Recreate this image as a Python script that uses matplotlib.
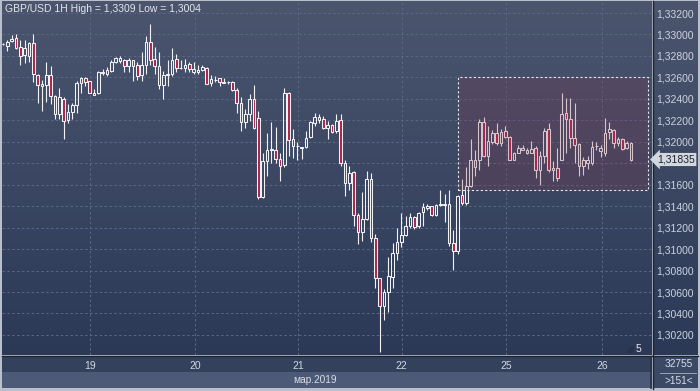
import matplotlib
matplotlib.use('Agg')
import matplotlib.pyplot as plt
import numpy as np
from matplotlib.patches import Rectangle

plt.rcParams['font.family'] = ['Liberation Sans', 'DejaVu Sans']

# ---------------- data (GBP/USD, 1H candles) ----------------
opens = [1.32910, 1.32894, 1.32938, 1.32964, 1.32882, 1.32807, 1.32801, 1.32920, 1.32627, 1.32518,
         1.32533, 1.32627, 1.32427, 1.32256, 1.32403, 1.32202, 1.32277, 1.32346, 1.32546, 1.32599,
         1.32564, 1.32459, 1.32452, 1.32639, 1.32636, 1.32661, 1.32739, 1.32751, 1.32758, 1.32702,
         1.32758, 1.32714, 1.32620, 1.32720, 1.32926, 1.32770, 1.32702, 1.32533, 1.32620, 1.32630,
         1.32770, 1.32692, 1.32689, 1.32723, 1.32646, 1.32646, 1.32670, 1.32692, 1.32546, 1.32576,
         1.32590, 1.32558, 1.32558, 1.32558, 1.32483, 1.32365, 1.32184, 1.32256, 1.32403, 1.32225,
         1.31486, 1.31819, 1.31928, 1.31928, 1.31842, 1.31785, 1.32459, 1.32022, 1.31959, 1.31944,
         1.31954, 1.32047, 1.32178, 1.32234, 1.32209, 1.32131, 1.32153, 1.32100, 1.32202, 1.31798,
         1.31617, 1.31720, 1.31321, 1.31155, 1.31281, 1.31655, 1.31103, 1.30729, 1.30470, 1.30604,
         1.30744, 1.30963, 1.31062, 1.31134, 1.31218, 1.31299, 1.31211, 1.31342, 1.31383, 1.31398,
         1.31321, 1.31414, 1.31414, 1.31424, 1.31056, 1.30978, 1.31508, 1.31430, 1.31592, 1.31767,
         1.31828, 1.32184, 1.31872, 1.31997, 1.32085, 1.31991, 1.32100, 1.32047, 1.31835, 1.31898,
         1.31928, 1.31928, 1.31898, 1.31944, 1.31741, 1.31866, 1.32115, 1.31741, 1.31757, 1.31835,
         1.32265, 1.32216, 1.32038, 1.31975, 1.31779, 1.31804, 1.31804, 1.31959, 1.31913, 1.31898,
         1.32090, 1.32109, 1.31991, 1.32029, 1.31944, 1.31991]
highs = [1.32920, 1.32950, 1.32994, 1.33001, 1.32950, 1.32945, 1.32932, 1.33001, 1.32630, 1.32576,
         1.32748, 1.32707, 1.32433, 1.32505, 1.32415, 1.32349, 1.32365, 1.32567, 1.32608, 1.32605,
         1.32567, 1.32489, 1.32658, 1.32676, 1.32698, 1.32763, 1.32786, 1.32801, 1.32770, 1.32777,
         1.32763, 1.32739, 1.32833, 1.32982, 1.33097, 1.32879, 1.32833, 1.32661, 1.32763, 1.32870,
         1.32817, 1.32763, 1.32770, 1.32745, 1.32748, 1.32714, 1.32720, 1.32698, 1.32620, 1.32614,
         1.32595, 1.32590, 1.32564, 1.32571, 1.32505, 1.32421, 1.32302, 1.32443, 1.32527, 1.32287,
         1.31891, 1.32085, 1.32184, 1.32141, 1.31891, 1.32505, 1.32464, 1.32115, 1.31997, 1.31954,
         1.32100, 1.32193, 1.32265, 1.32256, 1.32237, 1.32193, 1.32162, 1.32256, 1.32256, 1.31835,
         1.31779, 1.31726, 1.31337, 1.31536, 1.31726, 1.31711, 1.31143, 1.30729, 1.30626, 1.30931,
         1.31056, 1.31196, 1.31337, 1.31311, 1.31337, 1.31305, 1.31342, 1.31430, 1.31424, 1.31405,
         1.31424, 1.31548, 1.31517, 1.31554, 1.31180, 1.31508, 1.31655, 1.31767, 1.32022, 1.31922,
         1.32209, 1.32234, 1.32146, 1.32109, 1.32172, 1.32115, 1.32146, 1.32053, 1.31903, 1.31966,
         1.31966, 1.31944, 1.32006, 1.31959, 1.31913, 1.32131, 1.32178, 1.31819, 1.31944, 1.32452,
         1.32412, 1.32412, 1.32365, 1.31985, 1.31860, 1.31866, 1.32006, 1.31997, 1.31966, 1.32225,
         1.32184, 1.32115, 1.32047, 1.32038, 1.32006, 1.31997]
lows = [1.32901, 1.32848, 1.32932, 1.32863, 1.32717, 1.32730, 1.32739, 1.32558, 1.32365, 1.32287,
        1.32371, 1.32349, 1.32209, 1.32209, 1.32022, 1.32178, 1.32209, 1.32265, 1.32452, 1.32520,
        1.32452, 1.32433, 1.32446, 1.32620, 1.32614, 1.32651, 1.32730, 1.32730, 1.32646, 1.32651,
        1.32567, 1.32576, 1.32567, 1.32630, 1.32720, 1.32630, 1.32489, 1.32403, 1.32520, 1.32614,
        1.32646, 1.32676, 1.32646, 1.32646, 1.32636, 1.32636, 1.32661, 1.32536, 1.32520, 1.32558,
        1.32520, 1.32546, 1.32536, 1.32474, 1.32272, 1.32100, 1.32131, 1.32193, 1.32115, 1.31468,
        1.31477, 1.31679, 1.31798, 1.31798, 1.31632, 1.31767, 1.31866, 1.31851, 1.31835, 1.31842,
        1.31944, 1.32038, 1.32146, 1.32178, 1.32122, 1.32029, 1.32085, 1.32085, 1.31772, 1.31492,
        1.31554, 1.31211, 1.31050, 1.31080, 1.31274, 1.31062, 1.30635, 1.30040, 1.30339, 1.30417,
        1.30635, 1.30900, 1.31024, 1.31124, 1.31196, 1.31187, 1.31196, 1.31211, 1.31367, 1.31305,
        1.31311, 1.31405, 1.31249, 1.31031, 1.30806, 1.30956, 1.31414, 1.31414, 1.31580, 1.31679,
        1.31735, 1.31860, 1.31779, 1.31975, 1.31966, 1.31959, 1.32038, 1.31828, 1.31828, 1.31891,
        1.31922, 1.31882, 1.31891, 1.31664, 1.31601, 1.31804, 1.31716, 1.31632, 1.31632, 1.31830,
        1.31891, 1.31944, 1.31804, 1.31685, 1.31695, 1.31748, 1.31788, 1.31928, 1.31860, 1.31872,
        1.32022, 1.31944, 1.31959, 1.31922, 1.31935, 1.31819]
closes = [1.32910, 1.32932, 1.32957, 1.32876, 1.32801, 1.32870, 1.32920, 1.32630, 1.32533, 1.32536,
          1.32627, 1.32427, 1.32256, 1.32421, 1.32197, 1.32277, 1.32346, 1.32546, 1.32599, 1.32558,
          1.32459, 1.32440, 1.32646, 1.32651, 1.32667, 1.32745, 1.32777, 1.32777, 1.32702, 1.32763,
          1.32707, 1.32614, 1.32720, 1.32926, 1.32763, 1.32702, 1.32533, 1.32620, 1.32630, 1.32758,
          1.32689, 1.32692, 1.32720, 1.32676, 1.32676, 1.32670, 1.32695, 1.32543, 1.32583, 1.32580,
          1.32558, 1.32552, 1.32558, 1.32483, 1.32365, 1.32184, 1.32256, 1.32403, 1.32131, 1.31486,
          1.31819, 1.31922, 1.31932, 1.31842, 1.31779, 1.32459, 1.32015, 1.31959, 1.31959, 1.31954,
          1.32034, 1.32184, 1.32234, 1.32202, 1.32131, 1.32153, 1.32090, 1.32193, 1.31798, 1.31617,
          1.31711, 1.31321, 1.31155, 1.31281, 1.31655, 1.31103, 1.30729, 1.30470, 1.30604, 1.30750,
          1.30963, 1.31062, 1.31134, 1.31218, 1.31299, 1.31206, 1.31337, 1.31393, 1.31405, 1.31321,
          1.31414, 1.31418, 1.31418, 1.31056, 1.30978, 1.31498, 1.31430, 1.31592, 1.31828, 1.31835,
          1.32184, 1.31866, 1.32006, 1.32085, 1.31991, 1.32090, 1.32047, 1.31835, 1.31891, 1.31944,
          1.31944, 1.31891, 1.31935, 1.31741, 1.31866, 1.32100, 1.31741, 1.31757, 1.31664, 1.32256,
          1.32209, 1.32038, 1.31966, 1.31779, 1.31835, 1.31835, 1.31954, 1.31962, 1.31938, 1.32085,
          1.32115, 1.31985, 1.32022, 1.31935, 1.31991, 1.31835]

day_labels = ['19', '20', '21', '22', '25', '26']
day_index = [20.2, 44.3, 68.2, 92.1, 116.2, 138.3]   # candle index where each day starts
month_label = 'мар.2019'
price_ticks = [1.302, 1.304, 1.306, 1.308, 1.310, 1.312, 1.314, 1.316,
               1.318, 1.320, 1.322, 1.324, 1.326, 1.328, 1.330, 1.332]
last_price = 1.31835
zone_start, zone_end = 105.0, 149.0
zone_low, zone_high = 1.3155, 1.3260
title = 'GBP/USD 1H High = 1,3309 Low = 1,3004'
corner_top, corner_bottom = '32755', '>151<'
sub_window_label = '5'

# ---------------- figure ----------------
W, H = 700, 391
fig = plt.figure(figsize=(W / 100, H / 100), dpi=100, facecolor='#b9c0cb')

# background axes in pixel coordinates
bg = fig.add_axes([0, 0, 1, 1], zorder=0)
bg.set_xlim(0, W)
bg.set_ylim(H, 0)
bg.axis('off')

def vgrad(c_top, c_bot, n=256):
    t = np.linspace(0, 1, n)[:, None, None]
    a = np.array(matplotlib.colors.to_rgb(c_top))[None, None, :]
    b = np.array(matplotlib.colors.to_rgb(c_bot))[None, None, :]
    return a * (1 - t) + b * t

grad = vgrad('#4b556e', '#2b3957')
bg.imshow(grad, extent=(2, 652, 355, 1), aspect='auto', interpolation='bilinear', zorder=0)
bg.imshow(grad, extent=(653, 698, 355, 1), aspect='auto', interpolation='bilinear', zorder=0)
bg.add_patch(Rectangle((2, 356), 650, 16, fc='#33415d', ec='none', zorder=1))
bg.add_patch(Rectangle((2, 372), 650, 16, fc='#4c5a77', ec='none', zorder=1))
bg.add_patch(Rectangle((653, 356), 45, 32, fc='#3b4966', ec='none', zorder=1))
bg.plot([652.5, 652.5], [1, 389], color='#1b2334', lw=1.0, zorder=2)
bg.plot([2, 698], [355.5, 355.5], color='#1b2334', lw=1.0, zorder=2)
bg.plot([660, 696], [372.5, 372.5], color='#aab2c0', lw=0.6, zorder=2)
bg.plot([650.5, 650.5], [357, 388], color='#26314a', lw=1.2, zorder=2)
bg.fill([627, 633, 633], [352, 346, 352], color='#28324a', zorder=2)
bg.set_xlim(0, W)
bg.set_ylim(H, 0)

# main price axes
ax = fig.add_axes([2 / W, (H - 355) / H, 650 / W, 354 / H], zorder=1)
ax.set_facecolor('none')
for s in ax.spines.values():
    s.set_visible(False)

n = len(opens)
x = np.arange(n)
o = np.array(opens); c = np.array(closes)
h = np.array(highs); l = np.array(lows)
top = np.maximum(o, c); bot = np.minimum(o, c)

ax.vlines(x, top, h, color='#f2f2f4', lw=0.8, zorder=3)
ax.vlines(x, l, bot, color='#f2f2f4', lw=0.8, zorder=3)
bw = 0.62
for i in range(n):
    bear = c[i] < o[i]
    ax.add_patch(Rectangle((x[i] - bw / 2, bot[i]), bw, max(top[i] - bot[i], 1e-6),
                           fc='#b0224a' if bear else 'none', ec='#f2f2f4', lw=0.75, zorder=4))

# highlighted zone
ax.add_patch(Rectangle((zone_start, zone_low), zone_end - zone_start, zone_high - zone_low,
                       fc=(0.53, 0.21, 0.30, 0.24), ec='#e8e8ee', lw=0.8,
                       ls=(0, (2, 2)), zorder=5))

ax.set_xlim(-0.23, 149.88)
ax.set_ylim(1.300131, 1.333121)

# grid
ax.set_yticks(price_ticks)
ax.set_xticks(day_index)
ax.grid(True, color='#5c6784', lw=0.7, ls=(0, (2.5, 2.5)), zorder=1)
ax.set_axisbelow(True)

ax.yaxis.tick_right()
ylabels = [('' if abs(p - last_price) < 0.0012 else f'{p:.5f}'.replace('.', ',')) for p in price_ticks]
ax.set_yticklabels(ylabels)
ax.tick_params(axis='y', length=0, pad=3.0, labelsize=7.5, labelcolor='#ccd3df')
ax.set_xticklabels(day_labels)
ax.tick_params(axis='x', length=0, pad=4.3, labelsize=7.5, labelcolor='#d2d8e2')

# current price label
ax.annotate(f'{last_price:.5f}'.replace('.', ','), xy=(1.0, last_price),
            xycoords=('axes fraction', 'data'), xytext=(3.6, 0), textcoords='offset points',
            ha='left', va='center', fontsize=7.5, color='#1a2130', zorder=10,
            bbox=dict(boxstyle='larrow,pad=0.15', fc='#d3d7de', ec='none'),
            annotation_clip=False)

# texts
fig.text(5 / W, 1 - 8.5 / H, title, fontsize=7.5, color='#e2e6ee', ha='left', va='center')
fig.text(315 / W, 1 - 380 / H, month_label, fontsize=7.3, color='#d8dde6', ha='center', va='center')
fig.text(679 / W, 1 - 364 / H, corner_top, fontsize=7.3, color='#d8dde6', ha='center', va='center')
fig.text(679 / W, 1 - 381 / H, corner_bottom, fontsize=7.3, color='#d8dde6', ha='center', va='center')
fig.text(638 / W, 1 - 349 / H, sub_window_label, fontsize=7.5, color='#e8eaee', ha='center', va='center')

fig.savefig('out.png', dpi=100, facecolor=fig.get_facecolor())
